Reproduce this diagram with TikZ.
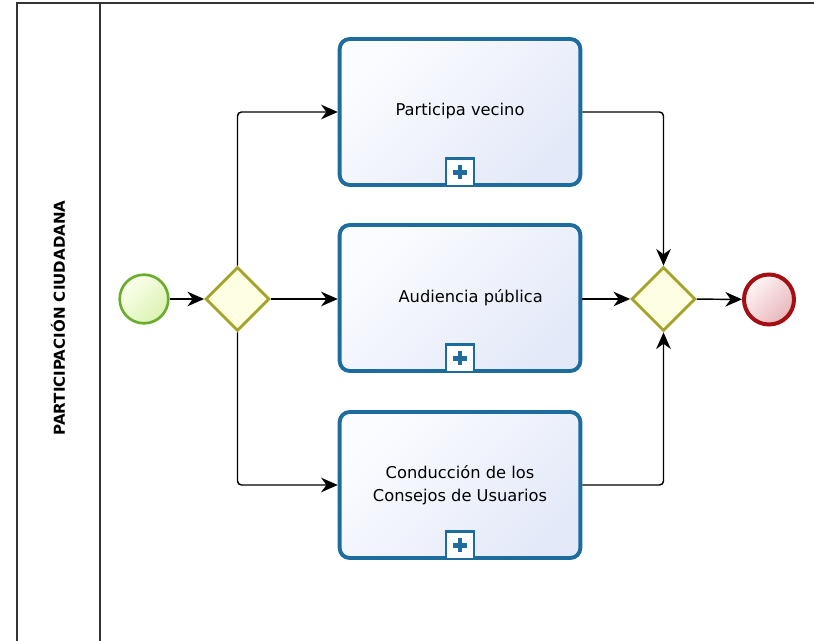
\documentclass[tikz,border=0pt]{standalone}
\usepackage{fontspec}
\setmainfont{DejaVu Sans}
\usetikzlibrary{arrows.meta,shapes.geometric}
\definecolor{framec}{HTML}{333333}
\definecolor{taskblue}{HTML}{1C6C9E}
\definecolor{taskfillA}{HTML}{FBFCFF}
\definecolor{taskfillB}{HTML}{E4E9F9}
\definecolor{gwline}{HTML}{A4A42C}
\definecolor{gwfill}{HTML}{FEFEE2}
\definecolor{startline}{HTML}{6AAD2D}
\definecolor{startfillA}{HTML}{FBFFEC}
\definecolor{startfillB}{HTML}{DCF2B4}
\definecolor{endline}{HTML}{A30F12}
\definecolor{endfillA}{HTML}{FFF6F6}
\definecolor{endfillB}{HTML}{E8B6BA}
\tikzset{
  framestyle/.style={draw=framec, line width=1.1pt},
  lanelabel/.style={rotate=90, font=\fontsize{11.3}{13}\selectfont\bfseries, inner sep=0pt},
  taskbox/.style={draw=taskblue, line width=2.9pt, rounded corners=7.5pt,
    minimum width=180.5pt, minimum height=109.5pt, inner sep=0pt, align=center,
    left color=taskfillA, right color=taskfillB, shading angle=45,
    font=\fontsize{12.2}{18}\selectfont},
  plusbox/.style={draw=taskblue, line width=1.7pt, fill=white, minimum width=21pt,
    minimum height=20.5pt, inner sep=0pt, anchor=south,
    path picture={\draw[taskblue, line width=3.6pt]
      ([yshift=-5pt]path picture bounding box.north) -- ([yshift=5pt]path picture bounding box.south)
      ([xshift=5pt]path picture bounding box.west) -- ([xshift=-5pt]path picture bounding box.east);}},
  gateway/.style={diamond, draw=gwline, line width=2.1pt, fill=gwfill,
    minimum width=48pt, minimum height=48pt, inner sep=0pt},
  startev/.style={circle, draw=startline, line width=2pt, minimum size=36.5pt, inner sep=0pt,
    left color=startfillA, right color=startfillB, shading angle=45},
  endev/.style={circle, draw=endline, line width=3pt, minimum size=37.5pt, inner sep=0pt,
    left color=endfillA, right color=endfillB, shading angle=45},
  flow/.style={draw=black, line width=1.1pt, rounded corners=3pt,
    -{Stealth[length=12.5pt,width=11pt,inset=4pt]}}
}
\begin{document}
\begin{tikzpicture}[x=0.75pt,y=-0.75pt]
\useasboundingbox (0,0) rectangle (814,641);
\fill[white] (0,0) rectangle (814,641);
\begin{scope}
\clip (0,0) rectangle (814,641);
\draw[framestyle] (17,3) rectangle (860,700);
\draw[framestyle] (100,3) -- (100,700);
\end{scope}
\node[lanelabel] (lane) at (58,318) {PARTICIPACIÓN CIUDADANA};

\node[taskbox] (t1) at (460,112) {\raisebox{3.5pt}{Participa vecino}};
\node[taskbox] (t2) at (460,298) {\raisebox{3pt}{\hspace*{16pt}Audiencia pública}};
\node[taskbox] (t3) at (460,485) {\raisebox{2.5pt}{\begin{tabular}{@{}c@{}}Conducción de los\\[-0.4pt]Consejos de Usuarios\end{tabular}}};
\node[plusbox] (m1) at (t1.south) {};
\node[plusbox] (m2) at (t2.south) {};
\node[plusbox] (m3) at (t3.south) {};

\node[startev] (s) at (144,299) {};
\node[gateway] (g1) at (237.5,299) {};
\node[gateway] (g2) at (663.5,299) {};
\node[endev] (e) at (769,299.5) {};

\draw[flow] (s) -- (g1);
\draw[flow] (g1) -- (g1 -| t2.west);
\draw[flow] (g1.north) |- (t1.west);
\draw[flow] (g1.south) |- (t3.west);
\draw[flow] (t1.east) -| (g2.north);
\draw[flow] (t2.east |- g2) -- (g2);
\draw[flow] (t3.east) -| (g2.south);
\draw[flow] (g2) -- (e);
\end{tikzpicture}
\end{document}
